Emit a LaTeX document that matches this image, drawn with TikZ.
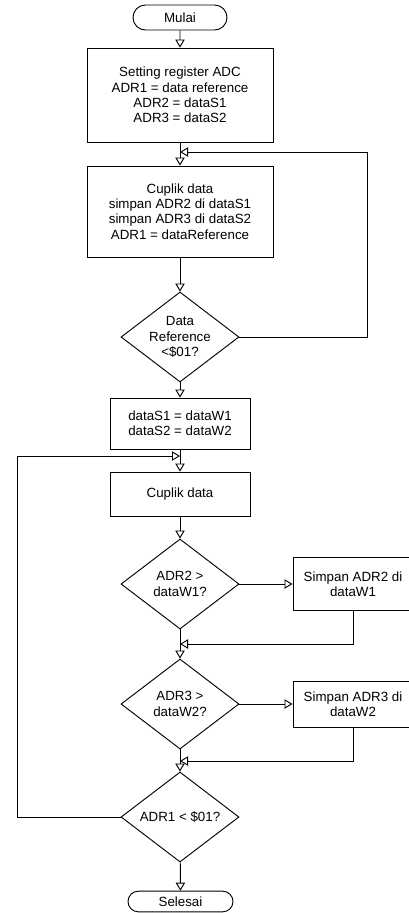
\documentclass[tikz,border=0pt]{standalone}
\usepackage{fontspec}
\setmainfont{Liberation Sans}
\usetikzlibrary{shapes, positioning, arrows.meta}

\begin{document}
\begin{tikzpicture}[x=0.75pt, y=-0.75pt,
    teks/.style={font=\fontsize{10}{11.5}\selectfont, align=center},
    proses/.style={teks, rectangle, draw=black, line width=0.7pt, inner sep=0pt},
    keputusan/.style={teks, diamond, aspect=1.3, draw=black, line width=0.7pt, inner sep=0pt, minimum width=88.5pt, minimum height=67.5pt},
    terminal/.style={teks, rounded rectangle, draw=black, line width=0.7pt, inner sep=0pt},
    alur/.style={line width=0.7pt, -{Triangle[open, length=6pt, width=7pt]}}
]
                \useasboundingbox (0, 0) rectangle (409, 913);

                \node[terminal, minimum width=70.5pt, minimum height=18.75pt] (mulai) at (180, 17.5) {Mulai};
                \node[proses, minimum width=139.5pt, minimum height=70.5pt] (setting) at (180, 95) {Setting register ADC\\ADR1 = data reference\\ADR2 = dataS1\\ADR3 = dataS2};
                \node[proses, minimum width=139.5pt, minimum height=68.25pt] (cuplik1) at (180, 211.5) {Cuplik data\\simpan ADR2 di dataS1\\simpan ADR3 di dataS2\\ADR1 = dataReference};
                \node[keputusan] (cekref) at (180, 337) {Data\\Reference\\<\$01?};
                \node[proses, minimum width=105pt, minimum height=38.25pt] (geser) at (180, 423.5) {dataS1 = dataW1\\dataS2 = dataW2};
                \node[proses, minimum width=105pt, minimum height=33pt] (cuplik2) at (180, 494) {Cuplik data};
                \node[keputusan] (cekw1) at (180, 584) {ADR2 >\\dataW1?};
                \node[proses, minimum width=90pt, minimum height=39.75pt] (simpanw1) at (353, 584) {Simpan ADR2 di\\dataW1};
                \node[keputusan] (cekw2) at (180, 704) {ADR3 >\\dataW2?};
                \node[proses, minimum width=90pt, minimum height=34.5pt] (simpanw2) at (353, 704) {Simpan ADR3 di\\dataW2};
                \node[keputusan] (cekadr) at (180, 817) {ADR1 < \$01?};
                \node[terminal, minimum width=78.75pt, minimum height=15.5pt] (selesai) at (180.5, 901.5) {Selesai};

                \coordinate (kanan) at (367, 152);
                \coordinate (gabung1) at (180, 152);
                \coordinate (gabung2) at (180, 644);
                \coordinate (gabung3) at (180, 761);
                \coordinate (kiri) at (17, 456);
                \coordinate (gabung4) at (180, 456);

                \draw[alur] (mulai) -- (setting);
                \draw[alur] (setting) -- (cuplik1);
                \draw[alur] (cuplik1) -- (cekref);
                \draw[alur] (cekref) -- (geser);
                \draw[alur] (geser) -- (cuplik2);
                \draw[alur] (cuplik2) -- (cekw1);
                \draw[alur] (cekw1) -- (simpanw1);
                \draw[alur] (cekw1) -- (cekw2);
                \draw[alur] (cekw2) -- (simpanw2);
                \draw[alur] (cekw2) -- (cekadr);
                \draw[alur] (cekadr) -- (selesai);

                \draw[alur] (cekref.east) -| (kanan) -- (gabung1);
                \draw[alur] (simpanw1.south) |- (gabung2);
                \draw[alur] (simpanw2.south) |- (gabung3);
                \draw[alur] (cekadr.west) -| (kiri) -- (gabung4);
            \end{tikzpicture}
\end{document}
